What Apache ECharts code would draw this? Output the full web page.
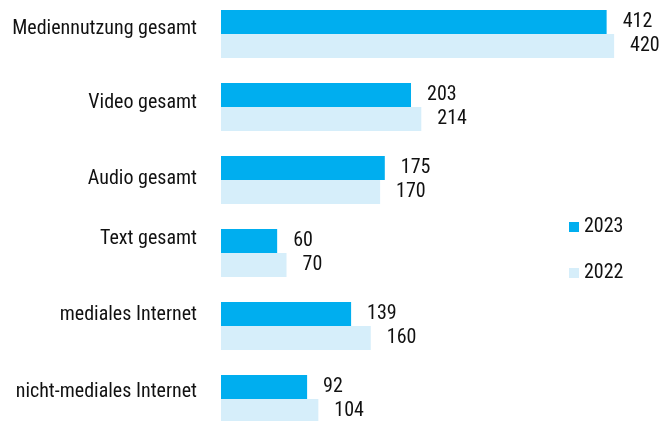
<!DOCTYPE html>
<html><head><meta charset="utf-8">
<script src="https://cdn.jsdelivr.net/npm/echarts@6/dist/echarts.min.js"></script>
<style>html,body{margin:0;padding:0;background:#fff}#c{width:661px;height:421px}</style>
</head><body><div id="c"></div>
<script>
const categories = ["Mediennutzung gesamt","Video gesamt","Audio gesamt","Text gesamt","mediales Internet","nicht-mediales Internet"];
const values2023 = [412,203,175,60,139,92];
const values2022 = [420,214,170,70,160,104];
const seriesNames = ["2023","2022"];
// upward shift (px) of each category label relative to its bar pair, as in the reference layout
const labelShift = [5, 4.5, 1, 14, 11, 7];
const FONT = '"Liberation Sans Narrow","Roboto Condensed","DejaVu Sans Condensed",sans-serif';
const chart = echarts.init(document.getElementById('c'));
const lbl = {show:true, position:'right', distance:16, color:'#111', fontSize:20, fontFamily:FONT};
const rich = {};
labelShift.forEach((s,i)=>{ rich['s'+i] = {fontSize:20, fontFamily:FONT, color:'#111', padding:[0,0,2*s,0]}; });
chart.setOption({
  animation:false,
  textStyle:{fontFamily:FONT},
  grid:{left:221, top:-2.5, right:18.8, bottom:-14.5, outerBoundsMode:'none', containLabel:false},
  xAxis:{type:'value', min:0, max:450, show:false},
  yAxis:{type:'category', inverse:true, data:categories,
    axisLine:{show:false}, axisTick:{show:false},
    axisLabel:{margin:24, color:'#111', fontSize:20, fontFamily:FONT,
      formatter:(v,i)=>'{s'+i+'|'+v+'}', rich:rich}},
  legend:{orient:'vertical', left:569, top:217, padding:0, itemWidth:10, itemHeight:10, itemGap:26,
    icon:'rect', textStyle:{fontSize:20, color:'#111', fontFamily:FONT},
    data:seriesNames},
  series:[
    {name:seriesNames[0], type:'bar', data:values2023, barWidth:24, barGap:'0%',
      itemStyle:{color:'#00AEEF'}, label:lbl},
    {name:seriesNames[1], type:'bar', data:values2022, barWidth:24, barGap:'0%',
      itemStyle:{color:'#D6EEFA'}, label:lbl}
  ]
});
</script></body></html>
